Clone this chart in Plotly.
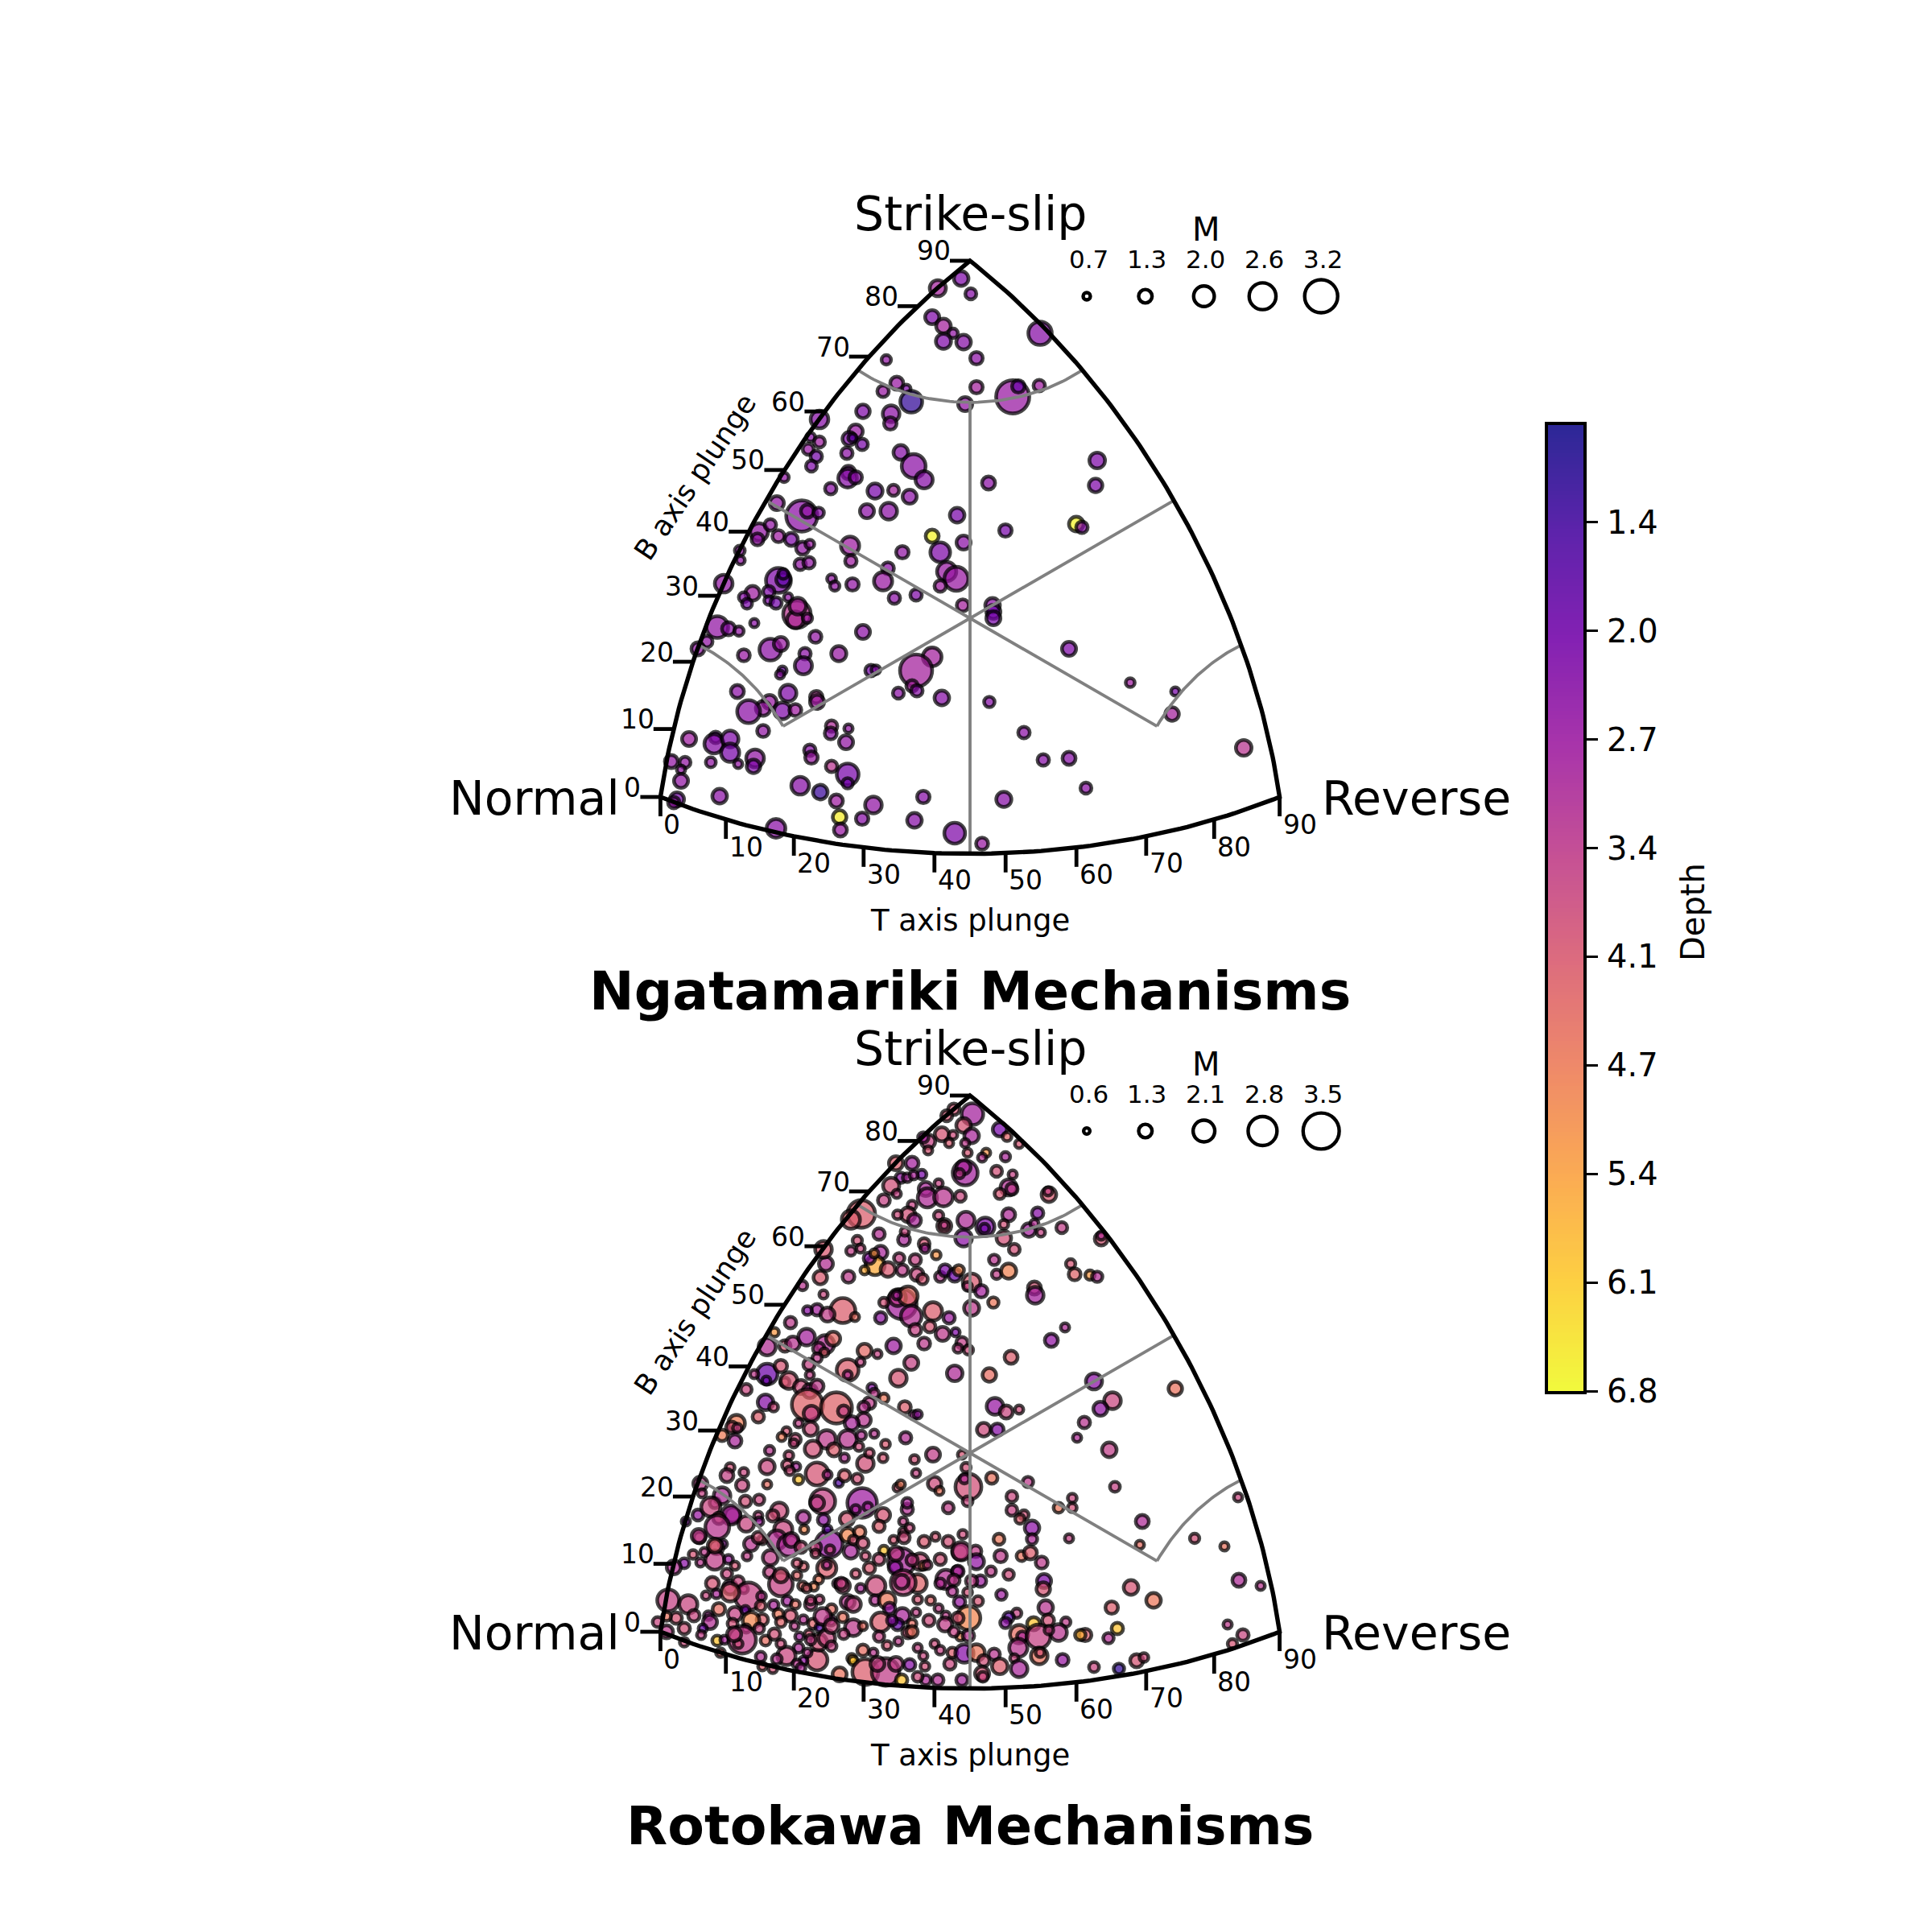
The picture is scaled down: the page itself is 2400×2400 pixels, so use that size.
import numpy as np
import plotly.graph_objects as go
from plotly.colors import sequential, hex_to_rgb

# ---- Ngatamariki: diagram coordinates, magnitude, depth ----
ng_h = [-11,-40,1,-47,-33,-21,-33,-8,8,-104,-91,-79,-108,8,-73,-6,-187,-133,-98,-99,
-142,-150,-146,-134,-198,-187,-201,-191,-153,-197,-231,-86,-70,-57,-151,-152,-142,-173,-118,-95,
-75,-240,-209,-202,-188,-128,-101,-16,-47,-8,-262,-264,-248,-238,-222,-208,-199,-149,-84,
-37,-286,
-285,-211,-200,-148,-102,-306,-238,-232,-232,-270,-281,-277,-250,-250,-241,-226,-215,-217,-214,-202,
-172,-168,-146,-108,-94,-67,-29,-17,-37,-9,28,29,29,-314,-300,-287,-268,-327,-338,-192,
-133,-248,-235,-281,-205,-163,-207,-233,-236,-123,-117,-47,-67,-289,-226,-249,-257,-275,-233,-217,
-191,-190,-89,-72,-66,-35,24,-257,-172,-173,-151,-349,-316,-318,-298,-298,-154,-199,-197,-267,
-269,-288,-322,-371,-354,-359,-172,-152,-152,-359,-211,-186,-311,-364,-368,-166,-120,-58,-162,-134,
-161,-69,-241,-19,15,
87,53,60,86,158,23,156,44,132,139,123,199,255,251,67,91,123,340,144,42]
ng_v = [422,410,403,374,363,354,344,343,323,321,292,285,282,287,269,266,247,257,254,242,
232,223,224,216,225,219,210,201,205,189,175,206,189,172,181,174,175,161,158,159,
151,143,127,133,131,133,133,128,102,94,107,98,116,102,98,87,92,90,82,
82,84,
72,67,69,71,62,43,47,48,55,31,26,18,33,22,19,26,5,-2,15,0,
49,40,42,46,25,29,58,49,40,16,16,8,0,-11,-13,-16,-6,-29,-38,-23,
-17,-39,-32,-46,-44,-44,-59,-65,-70,-65,-64,-48,-65,-91,-93,-104,-112,-116,-115,-114,
-98,-104,-93,-84,-90,-99,-104,-140,-134,-143,-137,-150,-148,-156,-150,-167,-154,-164,-173,-174,
-184,-181,-179,-178,-179,-188,-184,-194,-205,-202,-208,-216,-221,-225,-229,-227,-232,-222,-247,-249,
-263,-251,-261,-267,-280,
354,275,288,289,196,168,165,109,117,113,-38,-80,-91,-119,-142,-176,-174,-161,-211,-225]
ng_mag = [1.3,1.45,.95,1.25,1.3,.8,1.35,1.3,1.1,.8,1.15,.7,1.0,1.1,2.0,1.25,1.6,1.2,1.5,1.1,
1.25,1.2,.7,1.0,.75,.95,.95,1.0,1.0,.95,.8,1.3,2.2,1.55,1.2,1.7,1.1,1.0,1.35,.95,
1.25,1.25,2.9,1.15,.9,1.25,1.5,1.3,1.15,1.25,1.6,1.05,1.0,1.05,1.15,1.15,.75,1.65,1.1,
1.8,.85,
.7,1.0,1.0,1.0,1.05,1.6,2.3,1.25,.85,1.3,.85,.85,1.0,.75,1.0,.7,2.55,1.5,1.5,.8,
.75,.8,1.1,1.65,1.0,1.0,1.75,2.2,1.0,1.05,1.3,1.25,1.25,2.0,1.15,.8,.7,1.0,1.15,1.05,
1.25,2.0,1.25,1.05,1.0,1.35,1.55,.7,.7,1.0,.75,1.7,3.0,1.15,1.5,1.25,1.3,2.1,1.5,1.05,
1.1,1.25,.95,1.0,1.0,1.3,.9,1.05,1.0,1.05,.7,1.25,1.0,1.75,1.5,1.65,1.25,1.0,1.1,1.6,
1.2,.7,.85,1.15,.95,.7,1.0,2.0,.9,1.25,1.6,1.3,1.3,1.25,1.0,1.15,1.5,1.1,1.2,1.1,
1.15,1.3,1.7,1.9,1.05,
2.15,3.1,1.1,1.0,1.4,1.15,1.2,1.1,1.3,1.0,1.25,.75,.7,1.2,1.0,1.0,1.15,1.4,.95,1.35]
ng_depth = [2.3,2.9,2.4,2.3,2.9,2.6,2.3,2.4,2.5,2.6,2.7,2.3,2.7,2.9,1.2,2.6,2.4,2.3,2.5,2.6,
2.7,2.3,1.8,2.2,2.4,2.8,2.7,2.1,2.5,2.3,2.6,2.4,2.5,2.4,2.5,2.4,2.5,2.5,2.2,2.9,
2.5,2.6,2.5,2.6,2.4,2.5,2.5,2.2,6.7,2.5,2.6,2.6,2.6,2.8,2.3,2.6,2.7,2.8,2.6,
2.3,2.6,
2.6,2.6,2.6,2.8,2.5,2.6,2.3,1.8,2.0,2.8,2.4,2.2,2.3,2.3,2.1,2.6,3.3,3.1,3.0,2.8,
2.6,2.6,2.6,2.7,2.5,2.3,2.7,2.7,2.8,2.9,2.5,2.0,2.2,2.6,2.5,2.6,2.5,2.6,2.6,2.6,
2.5,2.5,2.7,2.7,2.5,2.7,2.4,2.0,2.5,2.2,2.4,2.9,2.9,2.5,2.3,2.7,2.7,2.5,2.3,2.8,
3.2,2.8,2.5,2.9,2.4,2.4,2.4,2.6,3.1,2.5,2.6,2.8,2.2,2.4,2.3,2.2,2.6,2.4,2.7,2.6,
2.3,2.6,2.6,2.6,2.6,2.6,3.3,2.2,2.1,2.6,2.4,1.3,2.5,2.2,2.6,2.8,2.6,2.4,6.6,2.4,
2.7,2.4,2.5,2.3,2.7,
2.4,2.7,2.0,2.8,2.3,2.5,2.3,2.2,6.7,2.4,2.3,2.8,2.2,2.9,2.5,2.4,2.4,3.3,2.5,2.4]

# ---- Rotokawa ----
ro_h = [3,-20,-29,-8,2,37,46,61,-35,-21,-26,-6,-52,-58,-52,-3,20,15,44,-6,
-8,-13,33,53,48,52,37,98,97,-92,-72,-86,-78,-60,-70,-39,-98,-91,-55,-53,
-33,-12,-107,-72,-77,-69,-90,-39,-135,-148,-32,-32,-5,19,18,-8,48,42,84,73,
80,88,114,42,55,-113,-82,-81,-140,-148,-136,-57,-56,-42,-111,-118,-125,-119,-131,-102,
-88,-84,-68,-66,-59,-37,-31,-19,-14,2,-3,14,30,33,48,2,29,80,81,125,
130,149,158,163,163,-151,-186,-179,-182,-182,-158,-143,-190,-202,-177,-85,-90,-77,-73,-91,
-111,-107,-46,-26,
-223,-243,-252,-230,-220,-203,-180,-170,-188,-181,-190,-131,-115,-95,-57,-18,-34,-50,-10,-2,
-15,-68,-152,-152,-136,-200,-73,-89,-19,24,-252,-253,-235,-268,-278,-230,-225,-210,-199,-190,
-199,-202,-166,-197,-157,-122,-119,-107,-125,-132,-132,-147,-81,-70,-65,-254,-244,-263,-290,-296,
-308,-292,-289,-213,-228,-234,-217,-219,-198,-178,-152,-195,-169,-135,-119,-80,-138,-105,-249,-252,
-46,-10,-69,-108,-130,-125,-156,-225,-227,-216,-224,-190,-177,-213,-163,-156,-140,-281,-298,-302,
-283,-252,-27,-5,-67,-44,-38,-90,-86,-2,-7,-3,-134,-142,-127,-183,-190,-279,-262,-237,
-245,-263,-335,-333,-317,-308,-295,-338,-353,-207,-182,-108,-113,-153,-78,-78,-83,
-322,-297,-312,-314,-278,-262,-232,-240,-225,-258,-272,-336,-307,-315,-277,-317,-300,-344,-330,-355,
-368,-335,-292,-248,-206,-175,-174,-148,-152,-137,-130,-83,-95,-82,-57,-43,-27,-75,-107,-85,
-93,-62,-37,-12,-113,-125,-142,-178,-178,-207,-215,-188,-208,-194,-203,-249,-235,-302,-320,-298,
-288,-281,-275,-298,-328,-375,-350,-343,-312,-325,-292,-279,-259,-260,-244,-227,-217,-198,-187,-198,
-223,-238,-258,-272,-323,-365,-377,-388,-355,-377,-332,-334,-355,-314,-305,-295,-278,-283,-288,-254,
-243,-235,-218,-207,-195,-187,-173,-172,-158,-145,-152,-145,-165,-136,-117,-118,-103,-100,-84,-90,
-111,-77,-113,-89,-103,-67,-65,-83,-65,-49,-39,-51,-30,-31,-30,-16,-58,-53,-13,-12,
-65,-44,-58,-37,-25,-22,-75,-56,-55,-40,-133,-147,-145,-130,-105,-85,-162,-120,-190,-188,
-178,-213,-212,-200,-228,-240,-260,-207,-215,-258,-310,-157,-158,
52,52,67,62,77,77,127,127,110,214,333,123,211,279,316,334,361,200,228,176,
183,172,143,137,320,339,326,154,185,207,216,115,36,-9,-11,7,8,38,64,75,
89,26,48,-15,13,2,92,91,-3,39,10,94,-2,58,48,44,79,97,119,61,
65,85,110,98,-2,60,-7,8,30,86,87,17,55,37,61,15,16,-10,
118,101,51,154,255,177,162,142,133,173,31,45,61,17,34,27,72,180,-208,
-337,-263,-222,-210,-177,-145,-133,-192,-317,-215,-192,-92,-72,-315,-235,-160,-85,-37,-183,-172,
-97,-72,-262,-293,-235,-133,-198,-172,-72,-65,-245,-210,-115,-92,-202,-20,-22,-15,-20]
ro_v = [421,427,419,407,394,402,393,384,396,395,385,385,387,392,376,373,373,367,368,348,
355,347,350,346,330,328,322,321,325,360,360,342,342,346,345,335,332,322,328,317,
318,319,314,308,296,289,296,295,297,290,282,283,289,281,279,267,296,284,298,277,
285,274,280,267,253,272,265,275,264,251,254,260,254,246,249,233,242,248,227,228,
242,227,240,222,216,219,227,221,227,212,207,201,240,222,226,180,187,205,196,235,
222,221,219,266,270,219,218,235,253,197,177,169,178,177,172,185,193,195,170,196,
168,187,176,168,
162,150,132,133,136,144,135,142,130,125,118,127,123,133,136,150,148,157,137,128,
130,153,103,97,113,110,112,93,99,97,98,90,108,98,79,88,90,82,77,83,
97,60,56,49,52,81,74,68,62,57,41,37,57,47,48,63,57,45,37,32,
22,15,31,37,27,20,17,12,30,17,17,5,4,22,24,19,8,11,3,-17,
-2,-2,-8,-6,-13,0,-6,-3,-15,-17,-22,-26,-27,-33,-37,-28,-32,-24,-18,-28,
-40,-39,-68,-18,-25,-38,-47,-43,-39,-42,-32,-60,-62,-70,-67,-60,-62,-60,-58,-72,
-78,-78,-38,-50,-62,-53,-77,-77,-85,-80,-83,-77,-91,-82,-70,-62,-85,
-67,-77,-81,-92,-88,-85,-95,-108,-115,-108,-113,-105,-113,-117,-128,-133,-132,-126,-123,-137,
-142,-136,-140,-130,-95,-113,-120,-122,-102,-98,-128,-98,-108,-105,-110,-104,-110,-93,-121,-135,
-142,-135,-132,-123,-132,-143,-150,-143,-139,-141,-152,-157,-165,-166,-168,-148,-163,-150,-162,-167,
-160,-169,-178,-173,-177,-183,-188,-202,-194,-202,-200,-195,-178,-190,-189,-184,-188,-188,-182,-183,
-202,-200,-207,-208,-210,-205,-203,-210,-218,-222,-218,-226,-235,-233,-232,-212,-218,-232,-237,-233,
-225,-210,-215,-207,-212,-217,-208,-194,-204,-217,-185,-188,-162,-168,-165,-183,-183,-193,-202,-213,
-210,-223,-228,-234,-239,-198,-162,-161,-182,-183,-193,-208,-202,-213,-157,-147,-140,-139,-185,-228,
-242,-237,-252,-245,-262,-248,-263,-265,-282,-282,-245,-255,-258,-272,-272,-282,-275,-248,-257,-235,
-230,-242,-228,-225,-252,-256,-253,-258,-262,-265,-248,-225,-165,
-54,-71,-77,-82,-93,-107,-56,-68,-68,-85,-55,-106,-114,-106,-116,-158,-165,-167,-183,-192,
-218,-230,-226,-226,-213,-226,-237,-266,-268,-258,-254,-257,-107,-101,-122,-122,-135,-128,-128,-124,
-136,-147,-151,-147,-159,-159,-159,-169,-173,-176,-184,-192,-205,-199,-204,-211,-212,-208,-210,-225,
-228,-228,-223,-220,-227,-242,-249,-248,-250,-252,-248,-258,-255,-265,-268,-274,-278,-282,
156,140,119,89,80,65,55,38,19,4,58,51,54,29,29,-31,-36,-42,208,
-103,-105,-108,-117,-95,-108,-112,-117,-115,-137,-125,-125,-133,-175,-152,-162,-160,-162,-203,-215,
-208,-212,-218,-225,-237,-215,-232,-240,-222,-278,-268,-267,-262,-262,-248,-158,-172,-205,-222]
ro_mag = [1.98,1,.95,1.3,1.3,1.25,.75,.7,1.25,.7,.7,.7,1.25,.9,.7,.7,.7,.7,.8,2.3,
1.25,.8,.95,.7,1.45,1,.9,1.3,.7,1.25,1.15,.9,.75,.8,.7,.7,1.45,.7,1.25,1.75,
1.7,.95,1.05,.75,1.3,1.15,.75,.8,2.55,1.65,1.25,.7,1.55,1.65,.8,1.5,1.15,.75,1,1.2,
.7,.7,.95,1.3,.95,1,1.05,.7,.8,.8,.7,.95,.75,.75,1.2,1.75,1,.7,.7,1.3,
.9,1,1,1.15,.9,.9,1.05,1.15,.9,1.6,.75,1.1,.9,.8,1.35,1.35,.9,1.15,1.5,.8,
1.05,.8,.9,1.15,.7,1.05,1.2,1.25,1.5,.7,2.3,.7,1,.75,1.25,2.8,1.5,1.75,1.9,.7,
1,.8,1.65,1,
1,.75,1.55,1,1.25,1.5,1.65,1.25,1,.7,.8,1.25,.7,1.3,1.05,.7,1.25,1,1,.8,
.75,1.05,2,.7,.7,1,1.25,1.5,1.4,1.2,1.9,.7,1.1,.7,.95,.8,1.5,1.25,1.25,1.15,
.7,2.9,2.9,1.4,1,.75,.8,.8,1.05,.95,1.25,1.25,1.05,.7,.7,1.4,.75,1,1.5,1,
1,1.15,.75,.7,.7,.7,.95,.7,1.25,1.65,1.65,1.5,1.15,.8,.7,1,.75,.75,.8,1.35,
1.25,.7,.75,.75,1.5,.75,.75,.75,.9,.7,.75,2.1,.7,.8,.7,1,.9,.75,.75,1.15,
1.1,.7,.95,.8,.7,1.2,.7,.7,.7,2.4,.8,.85,2.75,.75,.75,2.3,1.25,1,.9,1.5,
1,.7,1.25,.7,.9,1.5,1.35,.95,.7,1.15,1,1.25,1,1.25,1,.85,.7,
1.75,1.75,1,2.2,1.4,.7,1.65,1.75,2,.75,1.25,1,.7,1.25,.75,1.75,.75,.75,.7,.85,
1.25,.7,.7,1.35,.7,2.5,.75,1.3,1.25,1,.75,.7,.7,1,1,.7,1,.7,.8,2.5,
1.15,1.5,1,1.4,1,1,.75,1.75,.7,.75,.75,.75,.75,.7,.7,1,2.2,.9,1.15,1.25,
1,.7,2.55,1.65,.7,2,1.65,1,1.1,.75,1.25,.7,.75,.85,.85,.85,.75,1,.7,.75,
1.1,.85,1,1.5,1.25,1,.75,.85,1,1.15,.7,.7,.75,.85,.7,.85,.7,2.55,.75,.85,
1,.85,.7,.75,.85,.7,.9,.85,.85,1.5,1.25,1.35,.7,.75,1.75,.85,1.5,1,1.35,1,
1.75,1,.9,.7,.75,.7,1.65,2.3,.75,.75,.7,1,.7,1.25,1.75,.9,.7,.7,1,.7,
.7,.7,.7,.75,1,.85,1,.75,.85,1,1,.75,.75,2.4,2.55,1,1.25,.7,1.9,1.5,
1.5,.85,.7,.75,1.65,.85,.85,.7,.75,.7,.75,.85,1.25,
.95,.95,.8,.8,1.3,.9,.75,.75,.85,1.15,.7,.7,.7,.8,.7,1.15,.7,1.3,1.3,1.1,
1,.9,1.1,.9,.7,1,.8,.85,.9,1.15,.75,1.05,.95,.75,1.65,1,1.35,1.1,.85,1.15,
1.05,.85,.9,1,1,1,1.25,1.2,.75,.9,.85,1.3,2.2,.8,.9,.9,1.15,1.05,.8,1.65,
.9,2.2,1.5,.75,1,1.65,1.65,1.5,1,1.5,.75,1,.7,1.4,1.5,1.25,.85,1,
.7,1.15,1.15,1.45,1.2,1.5,1.25,1,.7,1.3,1.5,1.15,.7,1.2,1.1,1,.9,.85,.8,
1.25,1,1.25,1,.7,.75,1,1,1.25,.75,.7,1.25,1,.75,1.25,1,1.25,.85,1.5,1.25,
.85,.75,.85,1.25,.75,.7,.85,.85,1,.85,.75,.75,1.25,1.25,.7,1,.85,1,.85]
ro_depth = [2.9,4,4,4,3,2.2,4.3,4,4,3.8,4.1,3.4,3.6,2.9,4,4,5.2,3.3,3,2.9,
3,3.4,3.9,3.6,3.2,3.4,4,4.1,3.6,4.2,2.9,2.6,3,2.2,3,3.6,3.9,3.6,3,3.1,
3.3,3.7,3.6,3.6,3.9,3,3.8,3.7,4.2,4.2,3.9,3.5,3.1,2.3,2.1,2.5,3.1,3.9,2.4,2.9,
3.2,3.6,3.5,3.9,3.9,3.2,3,3.7,3.9,3.5,3.7,4,3,5.2,3,5.6,2.5,5.2,5.6,4.1,
3.6,3.4,3.6,3.7,4,3.3,2.3,2,5,4.1,3.6,2.9,3.3,3.5,4.9,3.4,4.7,4,2.9,4,
4.3,5.3,3.2,4,3.2,3.4,4.1,3.2,4.1,3.7,4.2,4.5,2.9,2.5,3.5,2.9,3.4,4.5,3.2,3,
2.6,3.9,4.2,2.8,
3.4,5.3,3.2,4,3.3,2.9,3.2,4.4,3.3,4.2,3.4,4.4,3.6,2.8,3.4,2.3,3.4,4,3.5,3.8,
3.5,3.6,4.2,3.2,3.6,3.6,3.6,4,3.1,4.5,2,2,4,3.4,3.7,4.2,4,3.8,3.2,3.4,
3.5,4.3,4.3,3.6,3.6,2.4,3.4,4.7,3.4,3.3,3.3,3,4.2,3,2.7,2.4,3.8,4.2,4.8,4,
4.8,3,3.6,3.5,4,4.8,3.8,3.7,3.8,3.4,3.3,3.9,4.2,3.2,3.3,3.2,3.8,4.1,3.3,3.7,
3.5,4,3.9,4,3.9,3.9,3.2,3.8,3.9,3,3.8,4,3.2,6,1.6,4.2,3.9,3.7,3.9,3.6,
3.7,4.5,3.5,3.9,3.6,3.8,4.6,4,4.7,3.9,3.2,3.7,2.8,3,3,3.6,3.5,3.9,3.7,3.8,
3.9,3.6,3.4,3.6,3.3,3.1,3,2.7,2.3,3.1,2.6,4,4.2,4,3.2,3,3.5,
3.7,3,4.3,3.3,3.7,2.8,3.7,3.2,3.1,4,3.3,3.9,2.6,3.5,3.5,3.5,2.8,4,3.4,2.5,
3.2,3.3,4,3.5,5,2.7,3.7,3,5,4.7,3.9,3.7,4,3.8,4.1,4,3.9,3.7,6,3,
2.6,3.8,3.9,3.9,3.8,4.1,4,4.2,3.2,4.2,4.3,4.7,4.4,4.9,4.2,3.6,3.6,3.7,4,3,
3.7,3.5,3.6,4.2,3.7,3.6,3.7,3.7,4.5,3,3.6,2.2,3.3,4.1,3,2.9,4.5,3.5,3.7,3.7,
4,4.7,4.2,5,3.2,4,4.6,3.7,3.9,3.4,2,3.5,3.8,6,3,3.9,3.4,3.5,3.8,4.5,
3.9,4.3,3.4,3.2,4.3,1.6,2.8,4.5,4.6,3.4,3.3,3.6,2.9,3,3.8,3.2,4.7,2.7,3,1.9,
4.2,3.9,3.6,3.4,4,3.5,4.3,3.6,4,4.3,3.5,3.8,3.4,3.5,3.2,3.3,5,3.6,2.7,5,
3.6,3.8,3.7,3.6,3.7,4.2,2.4,3.9,3.1,3.2,4.5,5.5,6,4.2,3.5,6,4.6,3.3,4,3.9,
3.7,3.1,2.9,4,3.7,3.3,3.2,2.6,3.3,4.2,4.3,3.6,3.7,
3.7,3.6,3.9,4.2,2.5,3.1,3.7,3.9,4.7,3.1,3.7,3.6,4.5,3.9,4.6,3.1,3.3,4,4.7,4.2,
6,3.2,4.2,5.7,3.4,3.7,4,3.7,1.2,4,3.8,2.7,4.7,3.8,3.5,3.5,2.6,3.4,4.6,4.2,
3.4,3.4,3.8,3,2.8,3.5,2.3,4,3.9,2.8,4,3.3,5,3.6,1.8,2.5,6,3.9,3.4,4.5,
3,3.6,3.3,3.6,3.3,3.3,2.4,4.7,3.3,4.6,4,3.9,3.7,4.2,3,4,3.7,2.9,
3.1,2.6,4.2,2.5,4.6,3.7,2.6,3.3,3.1,3.5,2.7,3.7,3.8,3.8,2.4,4.6,3.4,3.6,3.3,
3.4,3.9,3.3,3.8,1.8,4,3.9,3.7,4.2,4,3.9,3.5,3.5,3,4,3.6,3.3,3.2,3.4,3.7,
2.5,4.5,3.7,3.6,3.8,4.5,3.5,3.6,4.6,3.8,3.9,3.1,3.6,3.5,3.3,3.4,3.2,4,3.6]

assert len(ng_h) == len(ng_v) == len(ng_mag) == len(ng_depth), (len(ng_h), len(ng_v), len(ng_mag), len(ng_depth))
assert len(ro_h) == len(ro_v) == len(ro_mag) == len(ro_depth), (len(ro_h), len(ro_v), len(ro_mag), len(ro_depth))

panel_titles = ["Ngatamariki Mechanisms", "Rotokawa Mechanisms"]
plunge_ticks = [0, 10, 20, 30, 40, 50, 60, 70, 80, 90]
legend_mags = [[0.7, 1.3, 2.0, 2.6, 3.2], [0.6, 1.3, 2.1, 2.8, 3.5]]
depth_ticks = [1.40, 2.075, 2.75, 3.425, 4.10, 4.775, 5.45, 6.125, 6.80]
depth_labels = ["1.4", "2.0", "2.7", "3.4", "4.1", "4.7", "5.4", "6.1", "6.8"]
DEPTH_MIN, DEPTH_MAX = 0.795, 6.8

# ---- layout constants ----
W = 2400
CX = 1205
CY = [768, 1805]
R = 483.0
TXT = "DejaVu Sans"
ALPHA = 0.72


def project(t, b, p):
    """Lambert azimuthal projection of the T, B, P axis plunges (degrees)."""
    n = np.array([np.sin(np.radians(t)), np.sin(np.radians(b)), np.sin(np.radians(p))], float)
    n = n / np.linalg.norm(n, axis=0)
    c = (n[0] + n[1] + n[2]) / np.sqrt(3)
    up = (2 * n[1] - n[0] - n[2]) / np.sqrt(6)
    rt = (n[0] - n[2]) / np.sqrt(2)
    s = np.sqrt(up ** 2 + rt ** 2)
    s = np.where(s < 1e-9, 1, s)
    r = R * np.sqrt(2 * (1 - np.clip(c, -1, 1)))
    return r * rt / s, r * up / s


def edge(kind, a):
    """Point at plunge a on one of the edges of the diagram."""
    a = np.asarray(a, float)
    if kind == "left":
        return project(0 * a, a, 90 - a)
    if kind == "right":
        return project(90 - a, a, 0 * a)
    return project(a, 0 * a, 90 - a)


def contour(axis, plunge=67.5):
    c = np.cos(np.radians(plunge))
    al = np.radians(np.linspace(0, 90 if axis == "b" else 45, 61))
    u = np.degrees(np.arcsin(c * np.sin(al)))
    v = np.degrees(np.arcsin(c * np.cos(al)))
    w = np.full_like(u, plunge)
    if axis == "b":
        return project(u, w, v)
    if axis == "p":
        return project(u, v, w)
    return project(w, v, u)


plasma = [hex_to_rgb(c) for c in sequential.Plasma]
scale_a = [[i / (len(plasma) - 1), f"rgba({c[0]},{c[1]},{c[2]},{ALPHA})"] for i, c in enumerate(plasma)]
scale_s = [[i / (len(plasma) - 1), f"rgb({c[0]},{c[1]},{c[2]})"] for i, c in enumerate(plasma)]


def mag_size(m):
    return 9 + 12.8 * (np.asarray(m, float) - 0.7)


fig = go.Figure()
anns = []
data = [(ng_h, ng_v, ng_mag, ng_depth), (ro_h, ro_v, ro_mag, ro_depth)]

for k in range(2):
    xa, ya = ("x", "y") if k == 0 else ("x2", "y2")
    h, v, m, d = data[k]
    fig.add_trace(go.Scatter(x=h, y=v, mode="markers", xaxis=xa, yaxis=ya, showlegend=False,
                             marker=dict(size=mag_size(m) + 1.5, color=d, colorscale=scale_a,
                                         cmin=0.8, cmax=6.8, opacity=1,
                                         line=dict(color=f"rgba(0,0,0,{ALPHA})", width=4.6))))

    def line(x, y, color, width):
        fig.add_trace(go.Scatter(x=np.asarray(x).tolist(), y=np.asarray(y).tolist(), mode="lines",
                                 xaxis=xa, yaxis=ya, showlegend=False, hoverinfo="skip",
                                 line=dict(color=color, width=width)))

    # grey field boundaries
    for ax in ("b", "p", "t"):
        line(*contour(ax), "#808080", 3.8)
    c67 = np.degrees(np.arcsin(np.cos(np.radians(67.5)) / np.sqrt(2)))
    for tbp in [(c67, 67.5, c67), (c67, c67, 67.5), (67.5, c67, c67),
                (45, 0, 45), (0, 45, 45), (45, 45, 0)]:
        ex, ey = project(*[np.array([q]) for q in tbp])
        line([0, ex[0]], [0, ey[0]], "#808080", 3.8)

    # outline
    aa = np.linspace(0, 90, 91)
    lx, ly = edge("left", aa)
    rx, ry = edge("right", aa)
    bx, by = edge("bottom", aa)
    line(np.r_[lx, rx[::-1], bx[::-1]], np.r_[ly, ry[::-1], by[::-1]], "black", 5.4)

    # ticks
    for p in plunge_ticks:
        ex, ey = edge("left", np.array([p]))
        line([ex[0] - 25, ex[0]], [ey[0], ey[0]], "black", 4.8)
        anns.append(dict(x=ex[0] - 22, y=ey[0] + 12, xref=xa, yref=ya, text=str(p), showarrow=False,
                         xanchor="right", yanchor="middle", font=dict(family=TXT, size=33, color="black")))
        ex, ey = edge("bottom", np.array([p]))
        line([ex[0], ex[0]], [ey[0], ey[0] - 24], "black", 4.8)
        anns.append(dict(x=ex[0] + 2, y=ey[0] - 34, xref=xa, yref=ya, text=str(p), showarrow=False,
                         xanchor="left", yanchor="middle", font=dict(family=TXT, size=33, color="black")))

    # size legend
    lx0 = [145 + i * 72.8 for i in range(5)]
    lm = legend_mags[k]
    fig.add_trace(go.Scatter(x=lx0, y=[400] * 5, mode="markers", xaxis=xa, yaxis=ya, showlegend=False,
                             hoverinfo="skip",
                             marker=dict(size=np.maximum(mag_size(lm), 6), color="rgba(0,0,0,0)", opacity=1,
                                         line=dict(color="black", width=4.4))))
    for xp, mv in zip(lx0, lm):
        anns.append(dict(x=xp + 2, y=446, xref=xa, yref=ya, text=f"{mv:.1f}", showarrow=False,
                         font=dict(family=TXT, size=31, color="black")))
    anns.append(dict(x=293, y=483, xref=xa, yref=ya, text="M", showarrow=False,
                     font=dict(family=TXT, size=40, color="black")))

    def label(x, y, text, size, angle=0, bold=False):
        anns.append(dict(x=x, y=y, xref=xa, yref=ya, text=f"<b>{text}</b>" if bold else text,
                         showarrow=False, textangle=angle, font=dict(family=TXT, size=size, color="black")))

    label(0, 502, "Strike-slip", 58.5)
    label(-541, -224, "Normal", 58.5)
    label(554, -224, "Reverse", 58.5)
    label(0, -375, "T axis plunge", 37)
    label(-342, 176, "B axis plunge", 35.5, -56)
    label(0, -463, panel_titles[k], 66.5, bold=True)

# colour bar
n = 256
zvals = np.linspace(DEPTH_MIN, DEPTH_MAX, n)
fig.add_trace(go.Heatmap(z=zvals.reshape(-1, 1), x=[0, 1], y=zvals, xaxis="x3", yaxis="y3",
                         colorscale=scale_s, zmin=DEPTH_MIN, zmax=DEPTH_MAX, showscale=False,
                         opacity=0.87, hoverinfo="skip"))

anns.append(dict(x=2103 / W, y=1 - 1133 / W, xref="paper", yref="paper", text="Depth", textangle=-90,
                 xanchor="center", yanchor="middle",
                 showarrow=False, font=dict(family=TXT, size=40, color="black")))

hidden = dict(visible=False, domain=[0, 1], automargin=False)
fig.update_layout(
    width=W, height=W, autosize=False, paper_bgcolor="white", plot_bgcolor="rgba(0,0,0,0)",
    margin=dict(l=0, r=0, t=0, b=0), showlegend=False, annotations=anns,
    xaxis=dict(hidden, range=[-CX, W - CX], anchor="y"),
    yaxis=dict(hidden, range=[CY[0] - W, CY[0]], anchor="x"),
    xaxis2=dict(hidden, range=[-CX, W - CX], anchor="y2"),
    yaxis2=dict(hidden, range=[CY[1] - W, CY[1]], anchor="x2"),
    xaxis3=dict(domain=[1923 / W, 1967 / W], range=[0, 1], anchor="y3", showticklabels=False, ticks="",
                automargin=False,
                showgrid=False, zeroline=False, showline=True, mirror=True, linecolor="black", linewidth=4),
    yaxis3=dict(domain=[1 - 1728 / W, 1 - 528 / W], range=[DEPTH_MAX, DEPTH_MIN], anchor="x3", side="right",
                automargin=False,
                tickmode="array", tickvals=depth_ticks, ticktext=depth_labels, ticks="outside", ticklen=14,
                tickwidth=3, tickcolor="black", showgrid=False, zeroline=False, showline=True, mirror=True,
                linecolor="black", linewidth=4, ticklabelstandoff=3,
                tickfont=dict(family=TXT, size=40, color="black")),
)
fig.write_html("out.html", config={"displayModeBar": False},
               post_script="document.body.style.margin='0';document.documentElement.style.overflow='hidden';")
